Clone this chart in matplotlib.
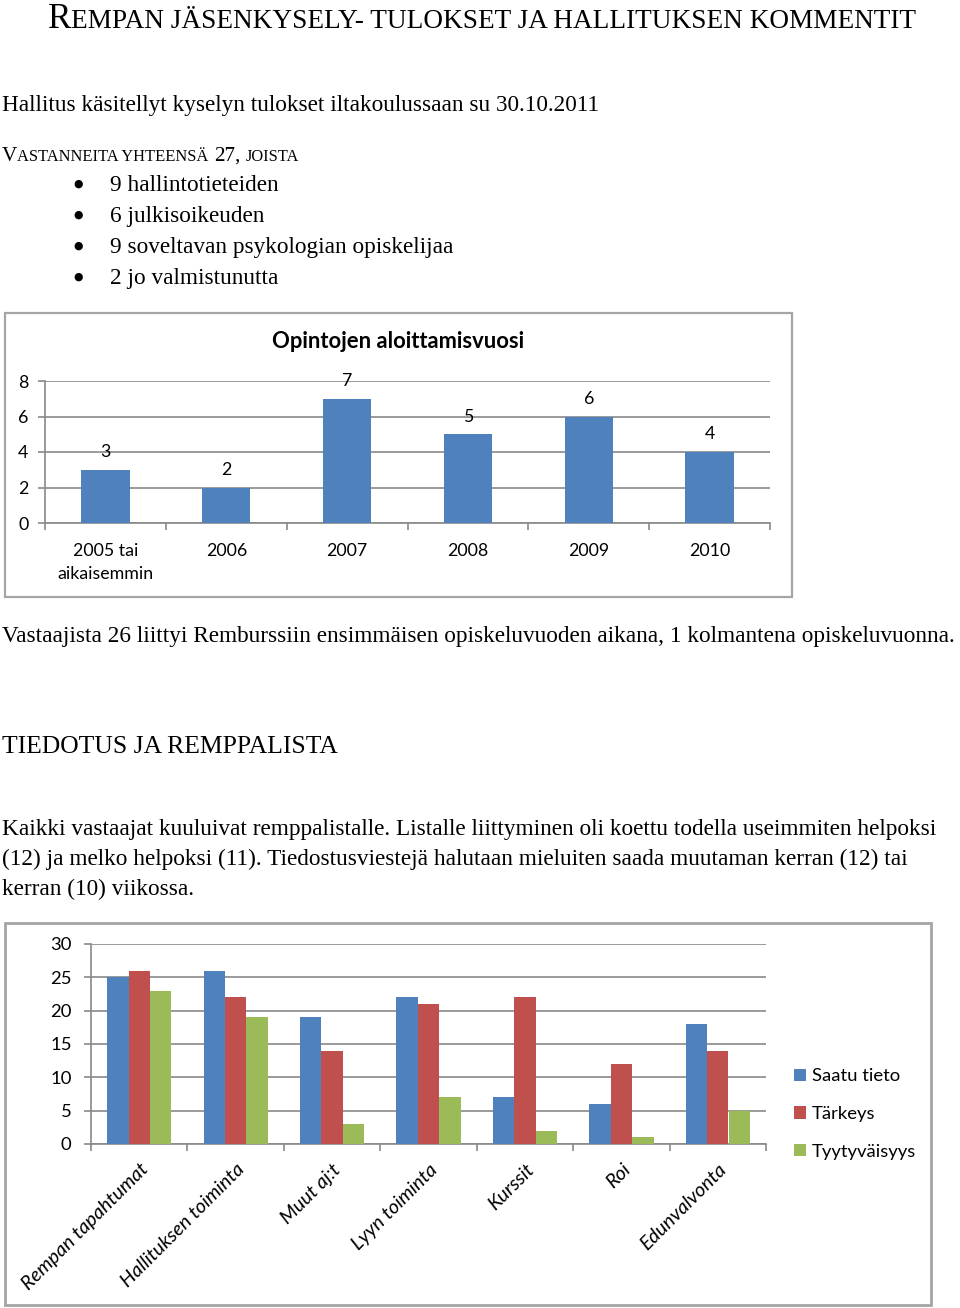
import matplotlib
matplotlib.use("Agg")
import matplotlib.pyplot as plt
from matplotlib.patches import Rectangle
from matplotlib.ticker import FixedLocator
import numpy as np

# ---------------- data ----------------
year_labels = ["2005 tai\naikaisemmin", "2006", "2007", "2008", "2009", "2010"]
year_counts = [3, 2, 7, 5, 6, 4]

topics = ["Rempan tapahtumat", "Hallituksen toiminta", "Muut aj:t", "Lyyn toiminta",
          "Kurssit", "Roi", "Edunvalvonta"]
series_names = ["Saatu tieto", "Tärkeys", "Tyytyväisyys"]
saatu_tieto = [25, 26, 19, 22, 7, 6, 18]
tarkeys = [26, 22, 14, 21, 22, 12, 14]
tyytyvaisyys = [23, 19, 3, 7, 2, 1, 5]

bullets = ["9 hallintotieteiden", "6 julkisoikeuden",
           "9 soveltavan psykologian opiskelijaa", "2 jo valmistunutta"]

# ---------------- style ----------------
W, H = 960, 1308
SERIF = ["Liberation Serif", "DejaVu Serif"]
SANS = ["Lato", "DejaVu Sans"]
BLUE, RED, GREEN = "#4F81BD", "#C0504D", "#9BBB59"
GRID = "#898989"
FRAME = "#A5A5A5"

fig = plt.figure(figsize=(W / 100, H / 100), dpi=100)
fig.patch.set_facecolor("white")
renderer = fig.canvas.get_renderer()


def fx(x):
    return x / W


def fy(y):
    return 1 - y / H


def width_px(t):
    return t.get_window_extent(renderer=renderer).width


def fit_text(s, x, y, target_w, size0=14, **kw):
    t = fig.text(fx(x), fy(y), s, fontsize=size0, family=SERIF, va="baseline", **kw)
    w = width_px(t)
    t.set_fontsize(size0 * target_w / w)
    return t


def smallcaps(runs, x, y, target_w, big=20, ratio=0.78):
    """runs: list of (text, is_big); gaps written as (None, n_spaces)"""
    def build(scale):
        objs = []
        cur = x
        for s, flag in runs:
            if s is None:
                cur += flag * 0.25 * big * scale * 100 / 72
                continue
            size = big * scale * (1 if flag else ratio)
            t = fig.text(fx(cur), fy(y), s, fontsize=size, family=SERIF, va="baseline")
            cur += width_px(t)
            objs.append(t)
        return objs, cur - x
    objs, w = build(1.0)
    for o in objs:
        o.remove()
    scale = target_w / w
    objs, _ = build(scale)
    return objs


# ---------------- page text ----------------
smallcaps([("R", True), ("EMPAN JÄSENKYSELY- TULOKSET JA HALLITUKSEN KOMMENTIT", False)],
          48, 28, 867, big=24)

body = fit_text("Vastaajista 26 liittyi Remburssiin ensimmäisen opiskeluvuoden aikana, "
                "1 kolmantena opiskeluvuonna.", 2, 642, 955)
bsize = body.get_fontsize()


def btext(s, x, y):
    return fig.text(fx(x), fy(y), s, fontsize=bsize, family=SERIF, va="baseline")


btext("Hallitus käsitellyt kyselyn tulokset iltakoulussaan su 30.10.2011", 2, 111)
smallcaps([("V", True), ("ASTANNEITA YHTEENSÄ", False), (None, 1), ("27,", True),
           (None, 1), ("JOISTA", False)], 2, 161, 298, big=bsize)
for i, b in enumerate(bullets):
    yb = 191 + i * 31
    fig.text(fx(78), fy(yb - 7), "\u25CF", fontsize=bsize * 0.47, family="DejaVu Sans",
             va="center", ha="center")
    btext(b, 110, yb)

fit_text("TIEDOTUS JA REMPPALISTA", 2, 753, 338)
btext("Kaikki vastaajat kuuluivat remppalistalle. Listalle liittyminen oli koettu "
      "todella useimmiten helpoksi", 2, 835)
btext("(12) ja melko helpoksi (11). Tiedostusviestejä halutaan mieluiten saada "
      "muutaman kerran (12) tai", 2, 865)
btext("kerran (10) viikossa.", 2, 895)

# ---------------- frames ----------------
fig.patches.append(Rectangle((fx(5), fy(597)), (792 - 5) / W, (597 - 313) / H,
                             transform=fig.transFigure, fill=False, ec=FRAME, lw=1.6))
fig.patches.append(Rectangle((fx(5), fy(1305)), (931 - 5) / W, (1305 - 923) / H,
                             transform=fig.transFigure, fill=False, ec=FRAME, lw=2.0))


def style_axis(ax, size, ypad):
    for sp in ("top", "right"):
        ax.spines[sp].set_visible(False)
    for sp in ("left", "bottom"):
        ax.spines[sp].set_color(GRID)
        ax.spines[sp].set_linewidth(1.2)
    ax.yaxis.grid(True, color=GRID, lw=1.2)
    ax.set_axisbelow(True)
    ax.tick_params(axis="y", length=5, width=1.2, color=GRID, pad=ypad, labelsize=size)
    ax.tick_params(axis="x", which="major", length=0, labelsize=size)
    ax.tick_params(axis="x", which="minor", length=5, width=1.2, color=GRID, direction="out")
    for lab in ax.get_yticklabels():
        lab.set_family(SANS)


# ---------------- chart 1 ----------------
C1 = 12.8
ax1 = fig.add_axes([fx(45), fy(523), (770 - 45) / W, (523 - 381) / H])
x1 = np.arange(len(year_counts))
ax1.bar(x1, year_counts, width=0.4, color=BLUE, zorder=3)
ax1.set_xlim(-0.5, len(year_counts) - 0.5)
ax1.set_ylim(0, 8)
ax1.set_yticks([0, 2, 4, 6, 8])
ax1.set_xticks(x1)
ax1.set_xticklabels(year_labels, family=SANS, linespacing=1.5)
ax1.xaxis.set_minor_locator(FixedLocator(np.arange(-0.5, len(year_counts), 1.0)))
style_axis(ax1, C1, 7)
ax1.tick_params(axis="x", which="major", pad=14.5)
for xi, v in zip(x1, year_counts):
    ax1.annotate(str(v), (xi, v), xytext=(0, 7), textcoords="offset points",
                 ha="center", va="bottom", fontsize=C1, family=SANS)
fig.text(fx(398), fy(342), "Opintojen aloittamisvuosi", ha="center", va="center",
         fontsize=15.8, fontweight="bold", family=SANS)

# ---------------- chart 2 ----------------
C2 = 13.3
ax2 = fig.add_axes([fx(91), fy(1144), (766 - 91) / W, (1144 - 944) / H])
x2 = np.arange(len(topics))
bw = 1 / 4.5
handles = []
for k, (vals, col) in enumerate(zip([saatu_tieto, tarkeys, tyytyvaisyys],
                                    [BLUE, RED, GREEN])):
    h = ax2.bar(x2 + (k - 1) * bw, vals, width=bw, color=col, zorder=3,
                label=series_names[k])
    handles.append(h)
ax2.set_xlim(-0.5, len(topics) - 0.5)
ax2.set_ylim(0, 30)
ax2.set_yticks(range(0, 31, 5))
ax2.set_xticks(x2)
ax2.set_xticklabels(topics, rotation=45, ha="right", va="top", rotation_mode="anchor",
                    family=SANS, style="italic", fontsize=14)
ax2.xaxis.set_minor_locator(FixedLocator(np.arange(-0.5, len(topics), 1.0)))
style_axis(ax2, C2, 9)
for lab in ax2.get_xticklabels():
    lab.set_fontsize(14.2)
ax2.tick_params(axis="x", which="major", pad=12)

fig.legend(handles=handles, labels=series_names, loc="center left",
           bbox_to_anchor=(fx(794), fy(1114)), frameon=False,
           handlelength=0.65, handleheight=0.65, handletextpad=0.3,
           labelspacing=1.17, borderpad=0, borderaxespad=0,
           prop={"family": SANS, "size": C2})

fig.savefig("out.png", dpi=100, facecolor="white")
